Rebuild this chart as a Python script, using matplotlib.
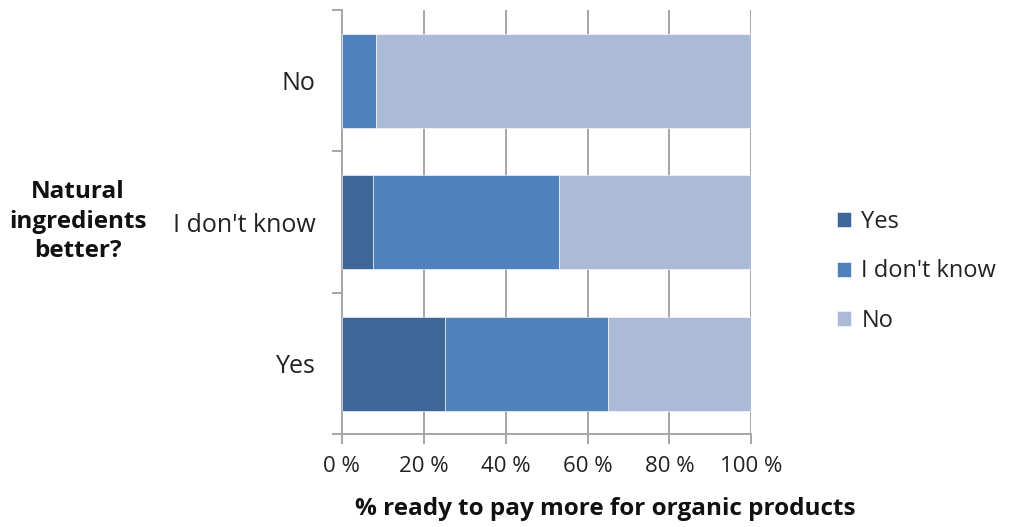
import numpy as np
import matplotlib
matplotlib.use("Agg")
import matplotlib.pyplot as plt

# ==============================
# DATA
# ==============================

categories = ["Yes", "I don't know", "No"]   # bottom to top
series_names = ["Yes", "I don't know", "No"]
yes_vals = [25.2, 7.7, 0.0]
idk_vals = [39.7, 45.3, 8.4]
no_vals = [35.1, 47.0, 91.6]
colors = ["#3E6797", "#4F81BD", "#AABAD7"]

plt.rcParams['font.family'] = ['Open Sans', 'DejaVu Sans']

fig = plt.figure(figsize=(10.14, 5.27), dpi=100)
ax = fig.add_axes([0.337, 0.176, 0.404, 0.805])

y = np.arange(len(categories))
left = np.zeros(len(categories))
for name, vals, c in zip(series_names, [yes_vals, idk_vals, no_vals], colors):
    ax.barh(y, vals, left=left, height=0.665, color=c, label=name,
            edgecolor="white", linewidth=0.4, zorder=3)
    left += np.array(vals)

ax.set_xlim(0, 100)
ax.set_ylim(-0.5, 2.5)
ax.set_xticks(np.arange(0, 101, 20))
ax.set_xticklabels([f"{v} %" for v in range(0, 101, 20)])
ax.set_yticks(y)
ax.set_yticklabels(categories)
ax.set_yticks([-0.5, 0.5, 1.5, 2.5], minor=True)

ax.grid(axis="x", color="#A6A6A6", linewidth=1.4, zorder=0)
for s in ["top", "right"]:
    ax.spines[s].set_visible(False)
for s in ["left", "bottom"]:
    ax.spines[s].set_color("#A6A6A6")
    ax.spines[s].set_linewidth(1.4)

ax.tick_params(axis="x", length=7, width=1.4, color="#A6A6A6", pad=9,
               labelsize=16, labelcolor="#222222")
ax.tick_params(axis="y", which="major", length=0, pad=19, labelsize=18,
               labelcolor="#222222")
ax.tick_params(axis="y", which="minor", length=7, width=1.4, color="#A6A6A6")

fig.text(0.077, 0.579, "Natural\ningredients\nbetter?", ha="center", va="center",
         fontsize=17.5, fontweight="bold", linespacing=1.3, color="#111111")
fig.text(0.597, 0.035, "% ready to pay more for organic products", ha="center",
         va="center", fontsize=17.5, fontweight="bold", color="#111111")

handles, labels = ax.get_legend_handles_labels()
fig.legend(handles, labels, loc="center left", bbox_to_anchor=(0.804, 0.485),
           frameon=False, fontsize=17, handlelength=0.6, handleheight=0.6,
           handletextpad=0.45, labelspacing=1.07, labelcolor="#222222")

plt.savefig("out.png", dpi=100)
